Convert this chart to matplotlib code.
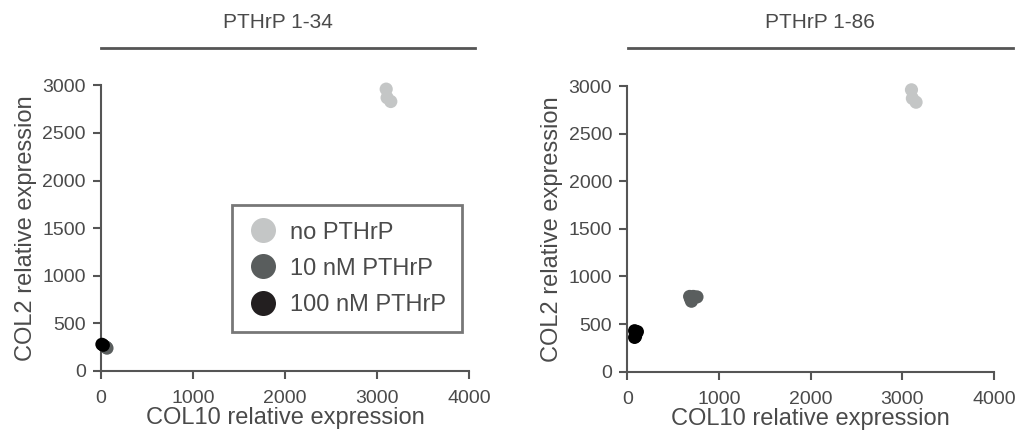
import numpy as np
import matplotlib.pyplot as plt
from matplotlib.lines import Line2D

plt.rcParams['font.family'] = ['Liberation Sans', 'DejaVu Sans']

# data (COL10 on x, COL2 on y)
groups = ['no PTHrP', '10 nM PTHrP', '100 nM PTHrP']
colors = ['#c4c6c6', '#5a5e5e', '#000000']
legend_colors = ['#c4c6c6', '#595d5d', '#231f20']

p134_col10 = [[3100, 3110, 3150], [65, 55], [10, 25]]
p134_col2 = [[2960, 2870, 2830], [240, 250], [280, 270]]

p186_col10 = [[3100, 3110, 3150], [680, 720, 760, 700, 690], [80, 100, 90, 110, 80]]
p186_col2 = [[2960, 2870, 2830], [790, 790, 785, 740, 765], [430, 410, 370, 420, 360]]

titles = ['PTHrP 1-34', 'PTHrP 1-86']

grey = '#555555'
txt = '#4a4a4a'

fig = plt.figure(figsize=(10.18, 4.34), dpi=100)
ax1 = fig.add_axes([0.0992, 0.1452, 0.3615, 0.6582])
ax2 = fig.add_axes([0.6162, 0.1436, 0.3602, 0.6582])

panels = [(ax1, p134_col10, p134_col2), (ax2, p186_col10, p186_col2)]
for ax, xs, ys in panels:
    for g, c, x, y in zip(groups, colors, xs, ys):
        ax.scatter(x, y, s=90, color=c, edgecolors='none', label=g, clip_on=False, zorder=3)
    ax.set_xlim(0, 4000)
    ax.set_ylim(0, 3000)
    ax.set_xticks([0, 1000, 2000, 3000, 4000])
    ax.set_yticks([0, 500, 1000, 1500, 2000, 2500, 3000])
    for s in ['top', 'right']:
        ax.spines[s].set_visible(False)
    for s in ['left', 'bottom']:
        ax.spines[s].set_color(grey)
        ax.spines[s].set_linewidth(1.5)
    ax.tick_params(length=6, width=1.5, color=grey, labelcolor=txt, labelsize=14)
    ax.tick_params(axis='x', pad=8)
    ax.tick_params(axis='y', pad=5)
    ax.set_xlabel('COL10 relative expression', fontsize=17, color=txt, labelpad=0)
    ax.set_ylabel('COL2 relative expression', fontsize=17, color=txt, labelpad=4)

# legend only in the left panel
handles = [Line2D([], [], marker='o', linestyle='none', markersize=18,
                  markerfacecolor=c, markeredgecolor='none') for c in legend_colors]
leg = ax1.legend(handles, groups, loc='upper left', bbox_to_anchor=(0.356, 0.581),
                 borderaxespad=0, fontsize=17, frameon=True, fancybox=False,
                 handletextpad=0.55, borderpad=0.7, labelspacing=0.6, handlelength=1.2)
leg.get_frame().set_edgecolor(grey)
leg.get_frame().set_linewidth(2)
for t in leg.get_texts():
    t.set_color(txt)

# group title bars above each panel
bars = [(101, 475, 278), (628, 1013, 820)]
W, H = 1018, 434
for (x0, x1, xc), title in zip(bars, titles):
    fig.add_artist(Line2D([x0 / W, x1 / W], [1 - 48 / H, 1 - 48 / H], color=grey, linewidth=2))
    fig.text(xc / W, 1 - 22 / H, title, ha='center', va='center', fontsize=15, color=txt)

fig.savefig('out.png', dpi=100)
